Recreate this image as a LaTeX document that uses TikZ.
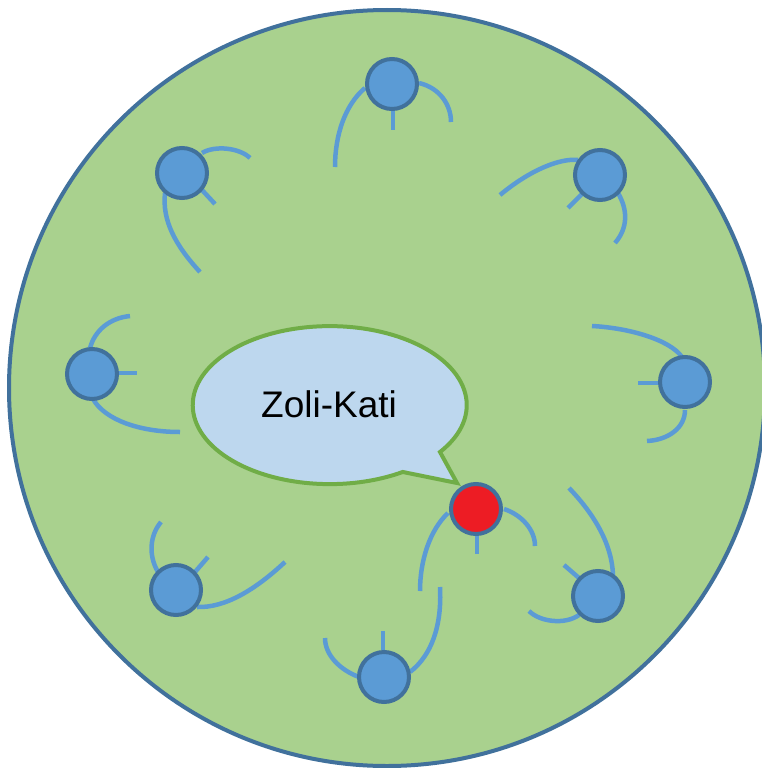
\documentclass[tikz,border=0pt]{standalone}
\usepackage{fontspec}
\setmainfont{Liberation Sans}
\definecolor{bggreen}{HTML}{A9D18E}
\definecolor{rimblue}{HTML}{41719C}
\definecolor{figblue}{HTML}{5B9BD5}
\definecolor{figred}{HTML}{ED1C24}
\definecolor{bubfill}{HTML}{BDD7EE}
\definecolor{bubrim}{HTML}{70AD47}
\begin{document}
\begin{tikzpicture}[x=1pt,y=-1pt,
  world/.style={draw=rimblue,fill=bggreen,line width=4pt},
  limb/.style={draw=figblue,line width=4.5pt},
  person/.style={circle,draw=rimblue,fill=figblue,line width=4pt,minimum size=50pt,inner sep=0pt},
  bubble/.style={draw=bubrim,fill=bubfill,line width=4pt,line join=miter}]
\useasboundingbox (0,0) rectangle (762,768);
\draw[world] (387,388) circle[radius=378pt];
% speech bubble
\draw[bubble] (440,452) arc[start angle=-36.4,end angle=302.2,x radius=137pt,y radius=79pt] -- (457,483) -- cycle;
\node[font=\fontsize{37}{40}\selectfont] (label) at (329,404) {Zoli-Kati};
% limbs
\draw[limb] (365,88) .. controls (345,105) and (335,135) .. (335,167);
\draw[limb] (419,83) .. controls (440,88) and (451,105) .. (451,122);
\draw[limb] (393,110) -- (393,130);
\draw[limb] (202,153) .. controls (215,145) and (240,148) .. (250,158);
\draw[limb] (202,190) -- (215,204);
\draw[limb] (165,193) .. controls (162,220) and (175,245) .. (200,272);
\draw[limb] (578,160) .. controls (560,158) and (530,170) .. (500,195);
\draw[limb] (582,194) -- (568,208);
\draw[limb] (618,193) .. controls (628,210) and (628,228) .. (615,243);
\draw[limb] (90,348) .. controls (95,330) and (110,318) .. (130,316);
\draw[limb] (117,373) -- (137,373);
\draw[limb] (93,399) .. controls (105,420) and (140,432) .. (180,432);
\draw[limb] (592,326) .. controls (630,328) and (670,340) .. (682,357);
\draw[limb] (638,383) -- (660,383);
\draw[limb] (685,410) .. controls (685,428) and (668,440) .. (647,441);
\draw[limb] (448,513) .. controls (430,530) and (420,560) .. (420,591);
\draw[limb] (504,509) .. controls (522,515) and (535,530) .. (535,546);
\draw[limb] (477,535) -- (477,554);
\draw[limb] (158,572) .. controls (148,555) and (150,535) .. (161,522);
\draw[limb] (195,572) -- (208,557);
\draw[limb] (197,607) .. controls (225,608) and (255,590) .. (285,562);
\draw[limb] (359,677) .. controls (340,670) and (325,655) .. (325,638);
\draw[limb] (383,650) -- (383,631);
\draw[limb] (410,672) .. controls (432,655) and (442,625) .. (440,587);
\draw[limb] (613,575) .. controls (612,545) and (595,515) .. (569,488);
\draw[limb] (579,578) -- (564,565);
\draw[limb] (579,615) .. controls (565,625) and (540,622) .. (529,611);
% heads
\node[person] (p1) at (392,84) {};
\node[person] (p2) at (182,173) {};
\node[person] (p3) at (600,175) {};
\node[person] (p4) at (92,374) {};
\node[person] (p5) at (685,382) {};
\node[person,fill=figred] (p6) at (476,509) {};
\node[person] (p7) at (176,590) {};
\node[person] (p8) at (384,677) {};
\node[person] (p9) at (598,596) {};
\end{tikzpicture}
\end{document}
